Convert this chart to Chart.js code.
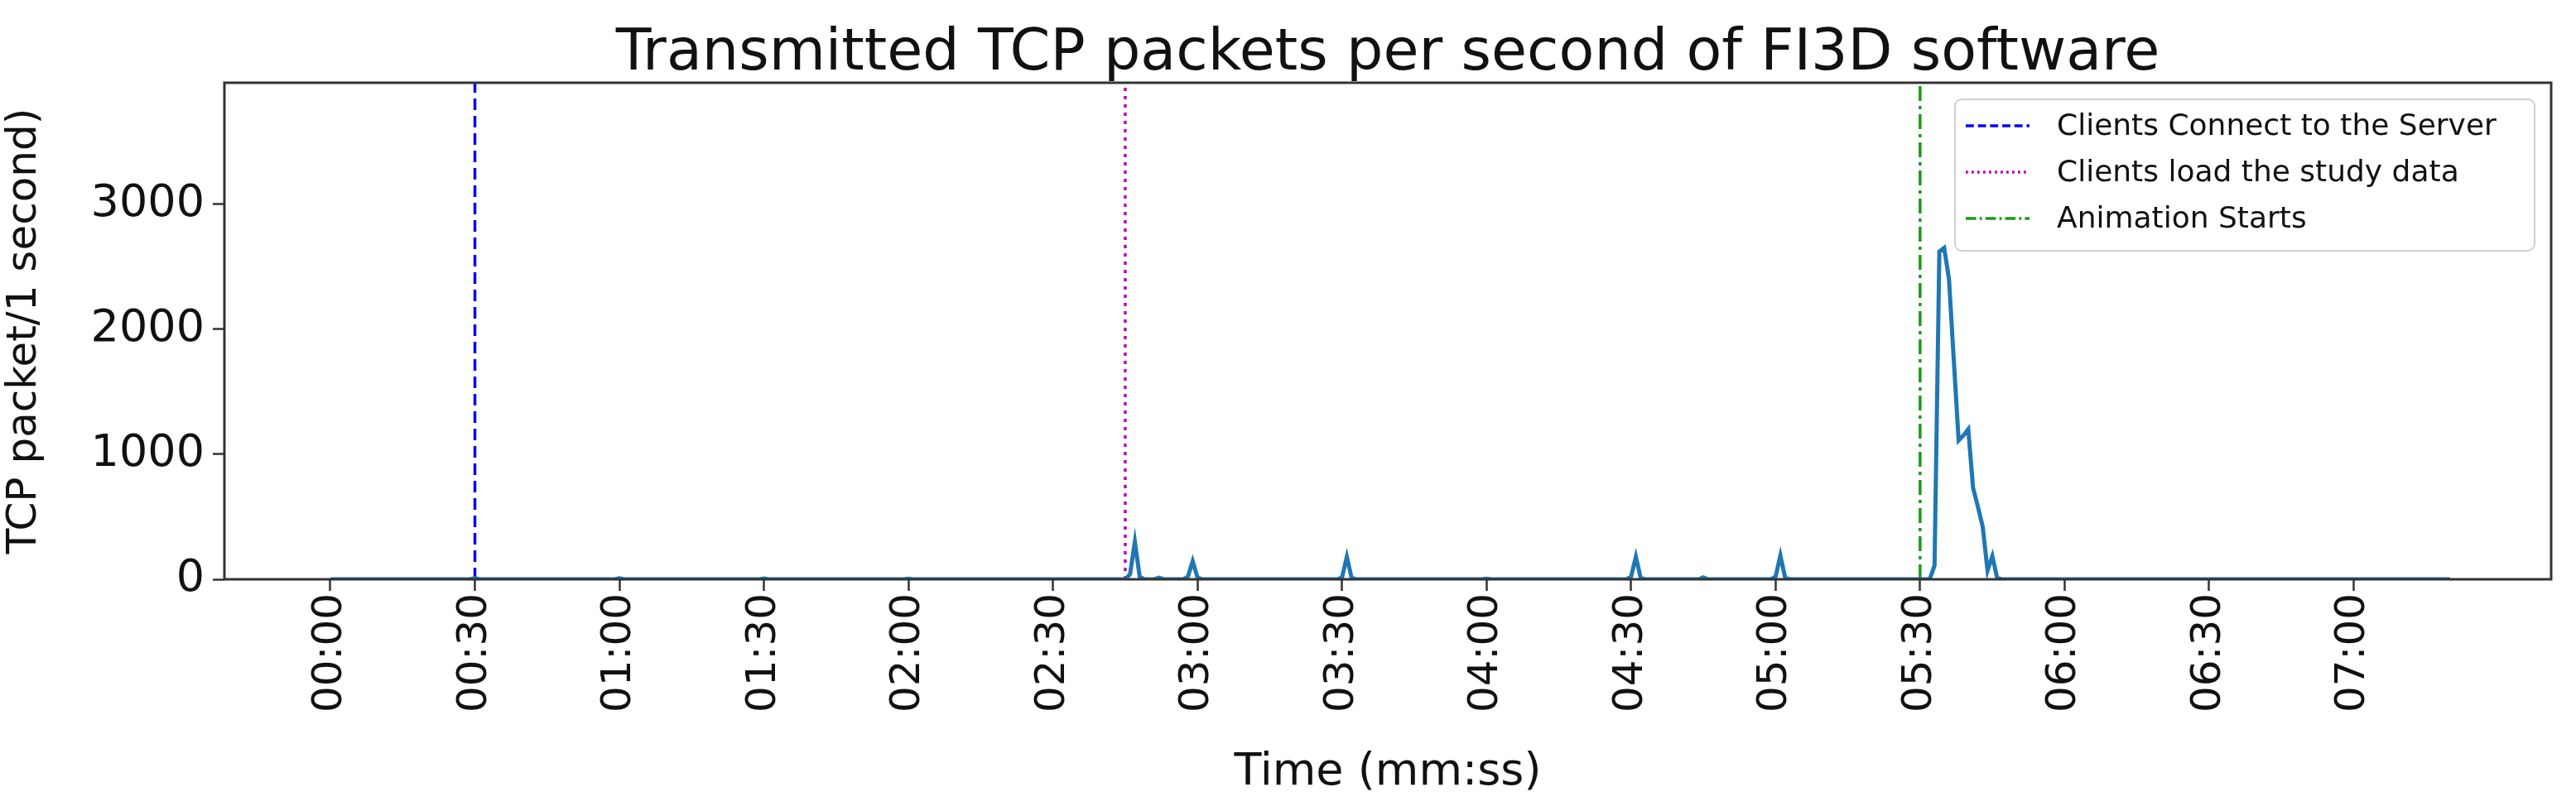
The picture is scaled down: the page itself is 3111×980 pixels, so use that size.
<!DOCTYPE html>
<html>
<head>
<meta charset="utf-8">
<script src="https://cdn.jsdelivr.net/npm/chart.js@4"></script>
<style>
  html, body { margin: 0; padding: 0; background: #fff; }
  #wrap { width: 3111px; height: 980px; }
</style>
</head>
<body>
<div id="wrap"><canvas id="tcpChart" width="3111" height="980"></canvas></div>
<script>
// seconds since start, packets per second (only non-zero samples listed)
const spikeSeconds = [30, 60, 90, 120, 166, 167, 168, 172, 178, 179, 180, 210, 211, 212, 240, 270, 271, 272, 285, 300, 301, 302, 333, 334, 335, 336, 337, 338, 339, 340, 341, 342, 343, 344, 345, 346];
const spikeValues  = [10, 8, 6, 5, 40, 300, 20, 12, 20, 145, 15, 15, 180, 10, 5, 20, 180, 10, 15, 20, 190, 10, 110, 2620, 2650, 2400, 1750, 1110, 1150, 1200, 730, 580, 420, 70, 185, 10];
const lastSecond = 440;

const eventNames = ['Clients Connect to the Server', 'Clients load the study data', 'Animation Starts'];
const eventSeconds = [30, 165, 330];
const eventColors = ['#0000ff', '#bf00bf', '#1a9a1a'];
const eventDashes = [[14, 7], [4, 6], [18, 6, 4, 6]];

const xTickValues = [0, 30, 60, 90, 120, 150, 180, 210, 240, 270, 300, 330, 360, 390, 420];
const xTickLabels = ['00:00', '00:30', '01:00', '01:30', '02:00', '02:30', '03:00', '03:30', '04:00', '04:30', '05:00', '05:30', '06:00', '06:30', '07:00'];
const yTickValues = [0, 1000, 2000, 3000];

// build the per-second series
const packets = [];
for (let s = 0; s <= lastSecond; s++) {
    const i = spikeSeconds.indexOf(s);
    packets.push({ x: s, y: i >= 0 ? spikeValues[i] : 0 });
}

const FONT = 'DejaVu Sans';
const datasets = [{
    label: 'packets',
    data: packets,
    borderColor: '#1f77b4',
    borderWidth: 5,
    pointRadius: 0,
    tension: 0
}];
eventSeconds.forEach(function(s, i) {
    datasets.push({
        label: eventNames[i],
        data: [{ x: s, y: 0 }, { x: s, y: 3970 }],
        borderColor: eventColors[i],
        borderDash: eventDashes[i],
        borderWidth: 3.5,
        pointRadius: 0
    });
});

// title, frame and legend drawn by hand to match the original
const decorPlugin = {
    id: 'decor',
    afterDraw: function(chart) {
        const c = chart.ctx, a = chart.chartArea;
        c.save();
        c.strokeStyle = '#333';
        c.lineWidth = 3;
        c.strokeRect(a.left, a.top, a.right - a.left, a.bottom - a.top);

        c.fillStyle = '#111';
        c.font = '70px "' + FONT + '"';
        c.textAlign = 'center';
        c.textBaseline = 'alphabetic';
        c.fillText('Transmitted TCP packets per second of FI3D software', (a.left + a.right) / 2, 84);

        const bx = 2361, by = 120, bw = 700, bh = 183;
        c.fillStyle = 'rgba(255,255,255,0.85)';
        c.strokeStyle = '#d0d0d0';
        c.lineWidth = 2;
        c.beginPath();
        c.roundRect(bx, by, bw, bh, 8);
        c.fill();
        c.stroke();
        c.font = '36px "' + FONT + '"';
        c.textAlign = 'left';
        c.textBaseline = 'middle';
        eventNames.forEach(function(name, i) {
            const y = 152 + i * 56;
            c.strokeStyle = eventColors[i];
            c.setLineDash(eventDashes[i].map(function(d) { return d * 0.7; }));
            c.lineWidth = 3.5;
            c.beginPath();
            c.moveTo(2374, y);
            c.lineTo(2451, y);
            c.stroke();
            c.setLineDash([]);
            c.fillStyle = '#111';
            c.fillText(name, 2484, y + 2);
        });
        c.restore();
    }
};

new Chart(document.getElementById('tcpChart').getContext('2d'), {
    type: 'line',
    data: { datasets: datasets },
    options: {
        responsive: false,
        animation: false,
        devicePixelRatio: 1,
        layout: { padding: { top: 100, right: 30, left: 0, bottom: 14 } },
        plugins: { legend: { display: false }, tooltip: { enabled: false } },
        scales: {
            x: {
                type: 'linear',
                min: -22,
                max: 461,
                afterBuildTicks: function(axis) {
                    axis.ticks = xTickValues.map(function(v) { return { value: v }; });
                },
                afterFit: function(axis) { axis.height = 266; },
                grid: { drawOnChartArea: false, color: '#333', tickLength: 14, tickWidth: 2.5 },
                border: { display: false },
                ticks: {
                    autoSkip: false,
                    maxRotation: 90,
                    minRotation: 90,
                    color: '#111',
                    font: { family: FONT, size: 50 },
                    callback: function(v) {
                        const i = xTickValues.indexOf(v);
                        return i >= 0 ? xTickLabels[i] : '';
                    }
                },
                title: { display: true, text: 'Time (mm:ss)', color: '#111', font: { family: FONT, size: 54 }, padding: { top: 0, bottom: 0 } }
            },
            y: {
                min: 0,
                max: 3970,
                afterBuildTicks: function(axis) {
                    axis.ticks = yTickValues.map(function(v) { return { value: v }; });
                },
                afterFit: function(axis) { axis.width = 271; },
                grid: { drawOnChartArea: false, color: '#333', tickLength: 14, tickWidth: 2.5 },
                border: { display: false },
                ticks: {
                    color: '#111',
                    font: { family: FONT, size: 54 },
                    padding: 10,
                    callback: function(v) { return String(v); }
                },
                title: { display: true, text: 'TCP packet/1 second)', color: '#111', font: { family: FONT, size: 50 }, padding: { top: 0, bottom: 4 } }
            }
        }
    },
    plugins: [decorPlugin]
});
</script>
</body>
</html>
